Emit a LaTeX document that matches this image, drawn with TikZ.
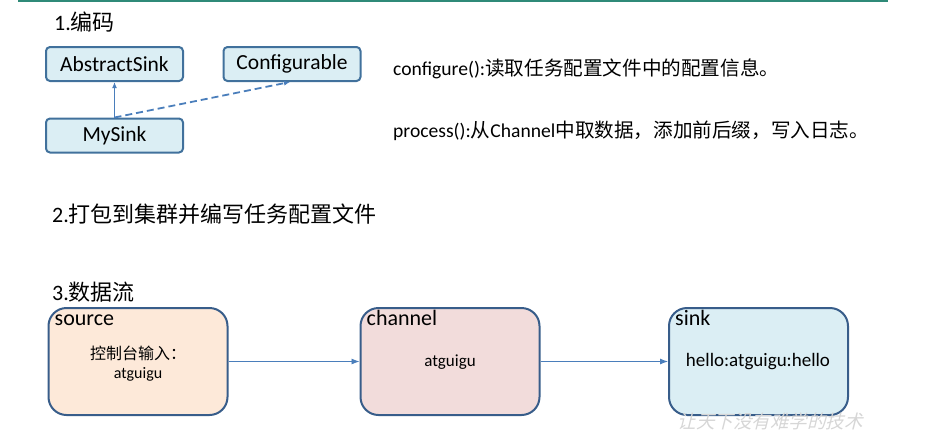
\documentclass[tikz,border=0pt]{standalone}
\usepackage{fontspec}
\setmainfont{Carlito}
\newfontfamily\cjk{Noto Sans CJK SC}
\newfontfamily\wmfont[FakeSlant=0.25]{Noto Sans CJK SC}
\usetikzlibrary{arrows.meta,positioning}
\definecolor{TopRule}{HTML}{2F8A78}
\definecolor{ClsFill}{HTML}{DBEEF4}
\definecolor{ClsLine}{HTML}{41719C}
\definecolor{ArrBlue}{HTML}{4A7EBB}
\definecolor{BlkLine}{HTML}{385D8A}
\definecolor{SrcFill}{HTML}{FDE9D9}
\definecolor{ChnFill}{HTML}{F2DCDB}
\definecolor{SnkFill}{HTML}{DBEEF4}

\begin{document}
\begin{tikzpicture}[x=1pt,y=-1pt,
    cls/.style={draw=ClsLine,line width=2pt,fill=ClsFill,rounded corners=4pt,
                minimum width=137pt,minimum height=34pt,inner sep=0pt,font=\fontsize{21.5}{23}\selectfont},
    block/.style={draw=BlkLine,line width=2pt,rounded corners=18pt,
                  minimum width=179pt,minimum height=107pt,inner sep=0pt},
    tag/.style={inner sep=0pt,anchor=base west,font=\fontsize{22}{24}\selectfont},
    title/.style={inner sep=0pt,anchor=west,font=\fontsize{22}{24}\selectfont},
    note/.style={inner sep=0pt,anchor=west,font=\fontsize{19.6}{22}\selectfont},
    uml/.style={-{Latex[length=6pt,width=5pt]},line width=1.8pt,ArrBlue},
    flow/.style={-{Latex[length=8pt,width=6pt]},line width=0.9pt,ArrBlue}]
    \useasboundingbox (0,0) rectangle (945,440);
    \draw[TopRule,line width=1.6pt] (18,0.8) -- (888,0.8);
    % 1. coding
    \node[title] (t1) at (54,22) {1.{\cjk 编码}};
    \node[cls] (abs) at (114.5,64) {AbstractSink};
    \node[cls] (cfg) at (292,64) {Configurable};
    \node[cls] (my) at (114.5,135.5) {MySink};
    \draw[uml] (my.north) -- (abs.south);
    \draw[uml,dash pattern=on 7pt off 4pt] (my.north) -- ([xshift=-2pt]cfg.south);
    \node[note] (conf) at (393,69) {configure():{\cjk 读取任务配置文件中的配置信息。}};
    \node[note] (proc) at (393,131) {process():{\cjk 从}Channel{\cjk 中取数据，添加前后缀，写入日志。}};
    % 2. packaging
    \node[title] (t2) at (52,214) {2.{\cjk 打包到集群并编写任务配置文件}};
    % 3. data flow
    \node[title] (t3) at (52,292) {3.{\cjk 数据流}};
    \node[block,fill=SrcFill] (src) at (138,361.5) {};
    \node[block,fill=ChnFill] (chn) at (450,361.5) {};
    \node[block,fill=SnkFill] (snk) at (758.5,361.5) {};
    \node[tag] (srctag) at ([shift={(7,18)}]src.north west) {source};
    \node[tag] (chntag) at ([shift={(7,18)}]chn.north west) {channel};
    \node[tag] (snktag) at ([shift={(7,18)}]snk.north west) {sink};
    \node[align=center,inner sep=0pt,font=\fontsize{16}{19}\selectfont] (srctxt) at (138,364)
        {{\cjk 控制台输入：}\\atguigu};
    \node[inner sep=0pt,font=\fontsize{17}{19}\selectfont] (chntxt) at (450,362) {atguigu};
    \node[inner sep=0pt,font=\fontsize{19}{21}\selectfont] (snktxt) at (758,362) {hello:atguigu:hello};
    \draw[flow] (src) -- (chn);
    \draw[flow] (chn) -- (snk);
    \node[inner sep=0pt,text=black!16,font=\wmfont\fontsize{18.5}{20}\selectfont] (wm) at (770,421)
        {让天下没有难学的技术};
\end{tikzpicture}
\end{document}
